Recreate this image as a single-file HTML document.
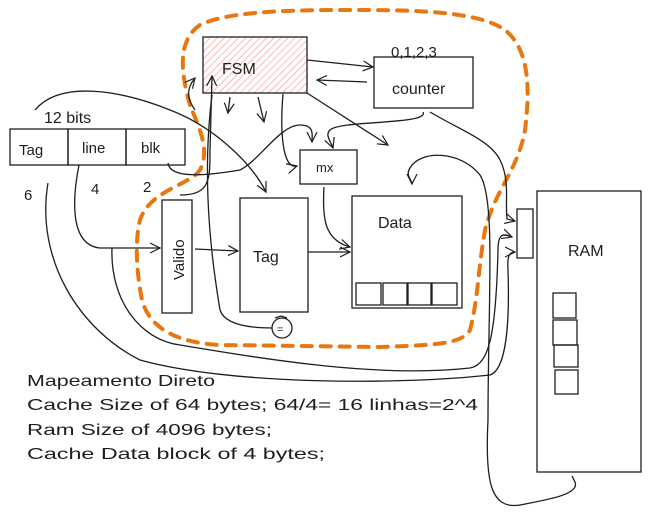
<!DOCTYPE html>
<html><head><meta charset="utf-8"><style>
html,body{margin:0;padding:0;background:#fff;}
svg{display:block}
text{font-family:"Liberation Sans",sans-serif;fill:#1e1e1e}
</style></head><body>
<svg width="651" height="517" viewBox="0 0 651 517" xmlns="http://www.w3.org/2000/svg">
<defs>
<pattern id="h" width="5" height="5" patternUnits="userSpaceOnUse" patternTransform="rotate(45)">
<line x1="0" y1="0" x2="0" y2="5" stroke="#ff9a9a" stroke-width="1.4"/>
</pattern>
<marker id="a" markerWidth="12" markerHeight="12" refX="10" refY="6" orient="auto" markerUnits="userSpaceOnUse">
<path d="M0,1 L10,6 L0,11" fill="none" stroke="#1e1e1e" stroke-width="1.2"/>
</marker>
</defs>
<rect width="651" height="517" fill="#fff"/>

<!-- orange dashed -->
<path d="M190,105 C180,70 178,40 200,25 C230,10 300,10 360,10 C420,10 480,12 505,30 C530,50 530,90 525,130 C518,170 495,190 485,230 C478,270 478,300 470,330 C462,345 430,345 380,347 L220,345 C180,343 150,330 142,300 C136,270 135,240 140,220 C150,190 190,185 200,170 C210,150 200,130 190,105 Z" fill="none" stroke="#e8770f" stroke-width="4" stroke-dasharray="10 9" stroke-linecap="round"/>

<g fill="none" stroke="#1e1e1e" stroke-width="1.3">
<!-- FSM -->
<rect x="203" y="37" width="104" height="56" fill="url(#h)"/>
<!-- counter -->
<rect x="374" y="57" width="99" height="51"/>
<!-- address -->
<rect x="10" y="129" width="58" height="36"/>
<rect x="68" y="129" width="58" height="36"/>
<rect x="126" y="129" width="59" height="36"/>
<!-- mx -->
<rect x="300" y="150" width="57" height="34"/>
<!-- Valido -->
<rect x="162" y="200" width="30" height="113"/>
<!-- Tag -->
<rect x="240" y="198" width="68" height="114"/>
<!-- Data -->
<rect x="352" y="196" width="110" height="112"/>
<rect x="356" y="283" width="25" height="22"/>
<rect x="383" y="283" width="24" height="22"/>
<rect x="408" y="283" width="23" height="22"/>
<rect x="432" y="283" width="25" height="22"/>
<!-- RAM -->
<rect x="537" y="191" width="104" height="281"/>
<rect x="553" y="293" width="23" height="25"/>
<rect x="553" y="320" width="24" height="25"/>
<rect x="554" y="345" width="24" height="22"/>
<rect x="555" y="370" width="23" height="24"/>
<rect x="517" y="209" width="16" height="49"/>
<circle cx="282" cy="328" r="10"/>

<!-- connectors -->
<path d="M307,60 L373,67" marker-end="url(#a)"/>
<path d="M367,82 L317,80" marker-end="url(#a)"/>
<path d="M307,93 L388,145" marker-end="url(#a)"/>
<path d="M230,97 L228,113" marker-end="url(#a)"/>
<path d="M258,97 L264,122" marker-end="url(#a)"/>
<path d="M283,94 C280,130 282,170 297,166" marker-end="url(#a)"/>
<path d="M423,112 C430,125 340,120 330,130 C325,135 330,140 333,148" marker-end="url(#a)"/>
<path d="M35,110 C60,80 120,90 170,110 C210,125 250,160 266,192" marker-end="url(#a)"/>
<path d="M168,163 C170,180 210,175 240,170 C260,160 280,125 300,125 C315,125 312,135 312,142" marker-end="url(#a)"/>
<path d="M180,195 C210,195 210,180 210,150 L212,76" marker-end="url(#a)"/>
<path d="M212,95 C200,190 215,280 220,310 C225,325 250,328 272,328"/>
<path d="M195,110 C188,100 185,90 195,78" marker-end="url(#a)"/>
<path d="M79,165 C72,200 70,245 100,248 L160,248" marker-end="url(#a)"/>
<path d="M195,249 L238,251" marker-end="url(#a)"/>
<path d="M308,252 L350,252" marker-end="url(#a)"/>
<path d="M324,187 C322,220 325,240 350,247" marker-end="url(#a)"/>
<path d="M112,248 C110,300 140,340 180,345 C270,360 380,378 470,368 C490,365 496,330 498,250 C498,230 506,235 512,237" marker-end="url(#a)"/>
<path d="M48,183 C35,260 80,330 140,360 C230,385 400,385 490,375 C505,370 510,330 508,270 C507,255 510,252 515,252" marker-end="url(#a)"/>
<path d="M430,112 C460,130 490,140 500,160 C510,180 505,200 507,219 L515,221" marker-end="url(#a)"/>
<path d="M488,420 C488,300 496,200 480,175 C460,150 420,150 410,168 C405,175 412,180 412,184" marker-end="url(#a)"/>
<path d="M488,420 C485,480 490,510 520,505 C545,500 580,495 575,482 L572,476"/>
<path d="M275,318 L281,316 L287,318"/>
</g>

<text x="222" y="74" font-size="16">FSM</text>
<text x="391" y="57" font-size="15">0,1,2,3</text>
<text x="392" y="94" font-size="16">counter</text>
<text x="44" y="123" font-size="16">12 bits</text>
<text x="19" y="155" font-size="15">Tag</text>
<text x="82" y="153" font-size="15">line</text>
<text x="141" y="153" font-size="15">blk</text>
<text x="24" y="200" font-size="15">6</text>
<text x="91" y="194" font-size="15">4</text>
<text x="143" y="192" font-size="15">2</text>
<text x="316" y="172" font-size="13">mx</text>
<text x="253" y="262" font-size="16">Tag</text>
<text x="378" y="228" font-size="16">Data</text>
<text x="568" y="256" font-size="16">RAM</text>
<text x="0" y="0" font-size="15" transform="translate(184,280) rotate(-90)">Valido</text>
<text x="277" y="333" font-size="11">=</text>
<text x="27" y="386" font-size="16" textLength="188" lengthAdjust="spacingAndGlyphs">Mapeamento Direto</text>
<text x="27" y="410" font-size="16" textLength="451" lengthAdjust="spacingAndGlyphs">Cache Size of 64 bytes; 64/4= 16 linhas=2^4</text>
<text x="27" y="435" font-size="16" textLength="245" lengthAdjust="spacingAndGlyphs">Ram Size of 4096 bytes;</text>
<text x="27" y="459" font-size="16" textLength="298" lengthAdjust="spacingAndGlyphs">Cache Data block of 4 bytes;</text>
</svg>
</body></html>
